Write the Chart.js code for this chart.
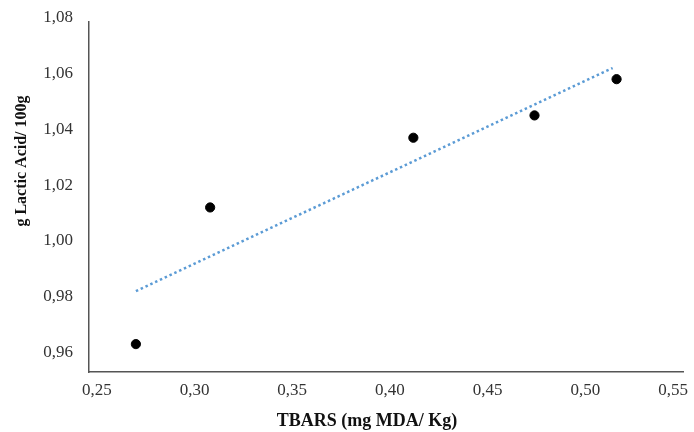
<!DOCTYPE html>
<html>
<head>
<meta charset="utf-8">
<script src="https://cdn.jsdelivr.net/npm/chart.js@4"></script>
<style>
  html, body { margin: 0; padding: 0; background: #fff; }
  canvas { display: block; }
</style>
</head>
<body>
<canvas id="tbarsChart" width="694" height="432"></canvas>
<script>
        // values
        const tbars = [0.270, 0.308, 0.412, 0.474, 0.516];
        const lacticAcid = [0.963, 1.012, 1.037, 1.045, 1.058];
        // linear trend line, end points as drawn
        const trendX = [0.270, 0.514];
        const trendY = [0.982, 1.062];
        const xTicks = [0.25, 0.30, 0.35, 0.40, 0.45, 0.50, 0.55];
        const yTicks = [0.96, 0.98, 1.00, 1.02, 1.04, 1.06, 1.08];

        const commaFmt = v => v.toFixed(2).replace('.', ',');
        const serif = '"Liberation Serif", "Times New Roman", serif';

        // axis titles and x tick labels (last one pushed inside the canvas, like the original)
        const labelsPlugin = {
            id: 'labelsPlugin',
            afterDraw(chart) {
                const ctx = chart.ctx;
                const xs = chart.scales.x;
                ctx.save();
                ctx.fillStyle = '#333';
                ctx.font = '17px ' + serif;
                ctx.textAlign = 'center';
                ctx.textBaseline = 'middle';
                xTicks.forEach(v => {
                    const txt = commaFmt(v);
                    const w = ctx.measureText(txt).width;
                    let px = xs.getPixelForValue(v);
                    px = Math.min(px, chart.width - 6 - w / 2);
                    ctx.fillText(txt, px, 391);
                });

                ctx.fillStyle = '#111';
                ctx.font = 'bold 18px ' + serif;
                ctx.fillText('TBARS (mg MDA/ Kg)', 367, 421);

                ctx.translate(22, 161);
                ctx.rotate(-Math.PI / 2);
                ctx.font = 'bold 16px ' + serif;
                ctx.fillText('g Lactic Acid/ 100g', 0, 0);
                ctx.restore();
            }
        };

        const ctx = document.getElementById('tbarsChart').getContext('2d');
        window.tbarsChart = new Chart(ctx, {
            type: 'scatter',
            data: {
                datasets: [{
                    label: 'Trend',
                    data: trendX.map((x, i) => ({ x: x, y: trendY[i] })),
                    showLine: true,
                    borderColor: '#5B9BD5',
                    borderWidth: 2.5,
                    borderDash: [2.5, 2.8],
                    pointRadius: 0,
                    fill: false,
                    order: 2
                }, {
                    label: 'g Lactic Acid/ 100g',
                    data: tbars.map((x, i) => ({ x: x, y: lacticAcid[i] })),
                    backgroundColor: '#000',
                    borderColor: '#000',
                    pointRadius: 4.6,
                    pointHoverRadius: 4.6,
                    order: 1
                }]
            },
            options: {
                responsive: false,
                animation: false,
                devicePixelRatio: 1,
                layout: { padding: { left: 0, top: 22, right: 11, bottom: 0 } },
                plugins: {
                    legend: { display: false },
                    tooltip: { enabled: false }
                },
                scales: {
                    x: {
                        type: 'linear',
                        min: 0.246,
                        max: 0.55,
                        grid: { display: false, drawTicks: false },
                        border: { display: true, color: '#555', width: 1.5 },
                        ticks: { display: false },
                        afterBuildTicks: s => { s.ticks = xTicks.map(v => ({ value: v })); },
                        afterFit: s => {
                            s.height = 60;
                            s.paddingLeft = 0;
                            s.paddingRight = 0;
                        }
                    },
                    y: {
                        type: 'linear',
                        min: 0.953,
                        max: 1.0785,
                        grid: { display: false, drawTicks: false },
                        border: { display: true, color: '#555', width: 1.5 },
                        ticks: {
                            color: '#333',
                            padding: 16,
                            font: { family: serif, size: 17 },
                            callback: v => commaFmt(v)
                        },
                        afterBuildTicks: s => { s.ticks = yTicks.map(v => ({ value: v })); },
                        afterFit: s => {
                            s.width = 89;
                            s.paddingTop = 0;
                            s.paddingBottom = 0;
                        }
                    }
                }
            },
            plugins: [labelsPlugin]
        });
</script>
</body>
</html>
